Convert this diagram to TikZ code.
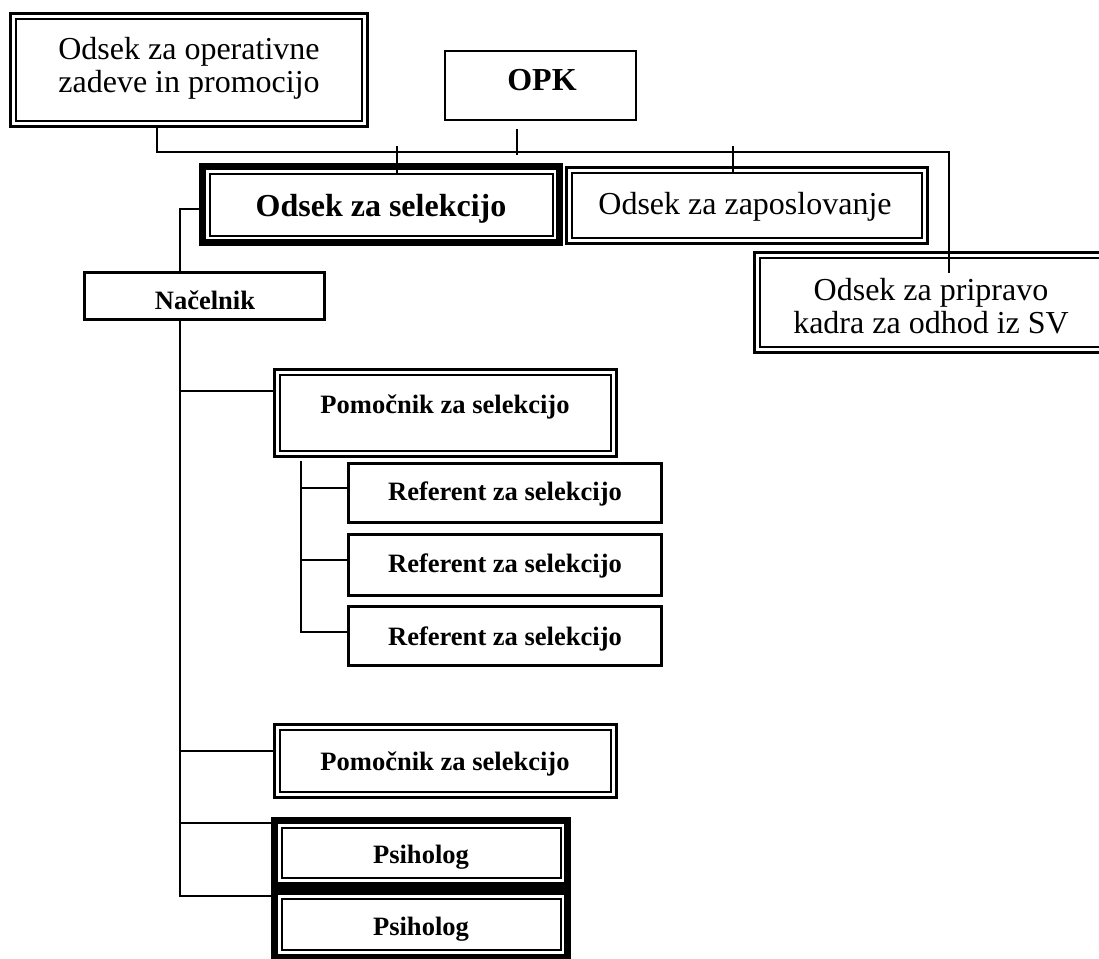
\documentclass[tikz,border=0pt]{standalone}
\usepackage{fontspec}
\setmainfont{Liberation Serif}
\usetikzlibrary{fit,calc}
% frame helper: node name, inset (px), line width
\newcommand{\rframe}[3]{\draw[line width=#3] ([shift={(#2,#2)}]#1.north west) rectangle ([shift={(-#2,-#2)}]#1.south east);}
\newcommand{\dblframe}[1]{\rframe{#1}{1.25}{1.9pt}\rframe{#1}{7}{1.9pt}}
\newcommand{\thkframe}[1]{\rframe{#1}{3.25}{4.9pt}\rframe{#1}{10.5}{1.5pt}}
\newcommand{\sthkframe}[1]{\rframe{#1}{1.75}{2.6pt}}
\newcommand{\thinframe}[1]{\rframe{#1}{1}{1.5pt}}
\tikzset{
  box/.style={inner sep=0pt, outer sep=0pt},
  bigtxt/.style={font=\fontsize{24}{24.75}\selectfont, inner sep=0pt, align=center},
  bigbold/.style={font=\fontsize{24}{24.75}\selectfont\bfseries, inner sep=0pt},
  smallbold/.style={font=\fontsize{19.9}{22}\selectfont\bfseries, inner sep=0pt},
  conn/.style={line width=1.5pt, line cap=rect}
}
\begin{document}
\begin{tikzpicture}[x=0.75pt, y=-0.75pt]
\useasboundingbox (0,0) rectangle (1099,958);
\clip (0,0) rectangle (1099,958);
% boxes
\node[box, fit={(9,12) (369,128)}] (A) {};
\node[box, fit={(444,50) (637,121)}] (OPK) {};
\node[box, fit={(199,163) (563,246)}] (Sel) {};
\node[box, fit={(565,166) (929,245)}] (Zap) {};
\node[box, fit={(753,251) (1109,354)}] (Pr) {};
\node[box, fit={(83,271) (326,321)}] (Nac) {};
\node[box, fit={(273,368) (618,458)}] (Pom1) {};
\node[box, fit={(347,462) (663,524)}] (Ref1) {};
\node[box, fit={(347,533) (663,597)}] (Ref2) {};
\node[box, fit={(347,605) (663,667)}] (Ref3) {};
\node[box, fit={(273,723) (618,799)}] (Pom2) {};
\node[box, fit={(271,817) (571,888)}] (Ps1) {};
\node[box, fit={(271,888) (571,960)}] (Ps2) {};
% frames
\dblframe{A}
\thinframe{OPK}
\thkframe{Sel}
\dblframe{Zap}
\dblframe{Pr}
\sthkframe{Nac}
\dblframe{Pom1}
\sthkframe{Ref1}
\sthkframe{Ref2}
\sthkframe{Ref3}
\dblframe{Pom2}
\thkframe{Ps1}
\thkframe{Ps2}
% texts
\node[bigtxt] (tA) at (189,68) {Odsek za operativne\\zadeve in promocijo};
\node[bigbold, anchor=base] (tOPK) at (542,90) {OPK};
\node[bigbold, anchor=base] (tSel) at (381,216) {Odsek za selekcijo};
\node[bigtxt, anchor=base] (tZap) at (745,214) {Odsek za zaposlovanje};
\node[bigtxt] (tPr) at (931,306) {Odsek za pripravo\\kadra za odhod iz SV};
\node[smallbold, anchor=base] (tNac) at (205,309) {Načelnik};
\node[smallbold, anchor=base] (tPom1) at (445,413) {Pomočnik za selekcijo};
\node[smallbold, anchor=base] (tRef1) at (505,500) {Referent za selekcijo};
\node[smallbold, anchor=base] (tRef2) at (505,572) {Referent za selekcijo};
\node[smallbold, anchor=base] (tRef3) at (505,645) {Referent za selekcijo};
\node[smallbold, anchor=base] (tPom2) at (445,770) {Pomočnik za selekcijo};
\node[smallbold, anchor=base] (tPs1) at (421,863) {Psiholog};
\node[smallbold, anchor=base] (tPs2) at (421,935) {Psiholog};
% connectors (top)
\coordinate (busL) at (157,152);
\coordinate (busR) at (949,152);
\draw[conn] (A.south -| busL) -- (busL) -- (busR) -- ($(Pr.north -| busR)+(0,21)$);
\draw[conn] ($(OPK.south)+(-23.5,9)$) -- ($(OPK.south)+(-23.5,33)$);
\draw[conn] ($(Sel.north)+(16,-16)$) -- ($(Sel.north)+(16,9)$);
\draw[conn] ($(Zap.north)+(-14,-19)$) -- ($(Zap.north)+(-14,6)$);
% connectors (left tree)
\coordinate (j0) at (180,209);
\coordinate (j1) at (180,391);
\coordinate (j2) at (180,751);
\coordinate (j3) at (180,823);
\coordinate (j4) at (180,896);
\draw[conn] (j0 -| Sel.west) -- (j0) -- (j0 |- Nac.north);
\draw[conn] (j0 |- Nac.south) -- (j4) -- (j4 -| Ps2.west);
\draw[conn] (j1) -- (j1 -| Pom1.west);
\draw[conn] (j2) -- (j2 -| Pom2.west);
\draw[conn] (j3) -- (j3 -| Ps1.west);
% referent sub-tree
\coordinate (k0) at (301,462);
\coordinate (k1) at (301,488);
\coordinate (k2) at (301,560);
\coordinate (k3) at (301,632);
\draw[conn] (k0) -- (k3) -- (k3 -| Ref3.west);
\draw[conn] (k1) -- (k1 -| Ref1.west);
\draw[conn] (k2) -- (k2 -| Ref2.west);
\end{tikzpicture}
\end{document}
